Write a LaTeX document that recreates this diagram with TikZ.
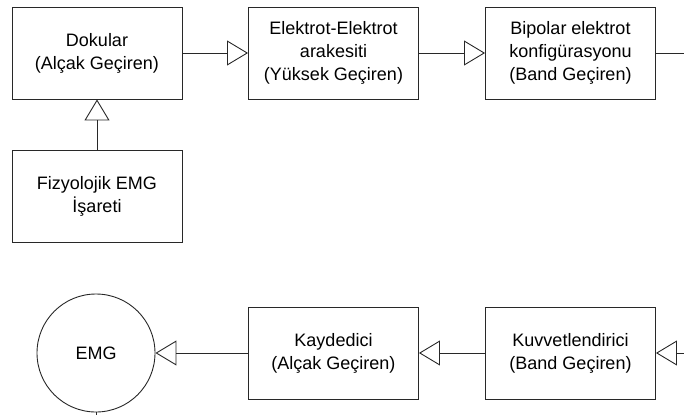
\documentclass[tikz,border=0pt]{standalone}
\usepackage{fontspec}
\setmainfont{Liberation Sans}
\usetikzlibrary{positioning}
\usetikzlibrary{arrows.meta}
\definecolor{cizgi}{RGB}{40,40,40}

\begin{document}
\begin{tikzpicture}[x=1pt, y=-1pt,
    blok/.style={draw=cizgi, line width=0.9pt, minimum width=170pt, minimum height=92pt,
                 align=center, font=\fontsize{18}{23}\selectfont},
    daire/.style={circle, draw=cizgi, line width=0.9pt, minimum size=118pt,
                  font=\fontsize{18}{23}\selectfont},
    akis/.style={draw=cizgi, line width=0.9pt, -{Triangle[open, length=21pt, width=25pt]}}]
    \useasboundingbox (0,0) rectangle (684,415);

    % Ust sira
    \node[blok] (dok) at (97,53) {Dokular\\(Alçak Geçiren)};
    \node[blok] (fiz) at (97,196.5) {Fizyolojik EMG\\İşareti};
    \node[blok] (ele) at (333.5,53) {Elektrot-Elektrot\\arakesiti\\(Yüksek Geçiren)};
    \node[blok] (bip) at (570.5,53) {Bipolar elektrot\\konfigürasyonu\\(Band Geçiren)};

    % Alt sira
    \node[daire] (emg) at (96,353) {EMG};
    \node[blok] (kay) at (333.5,353) {Kaydedici\\(Alçak Geçiren)};
    \node[blok] (kuv) at (570.5,353) {Kuvvetlendirici\\(Band Geçiren)};

    % Kenar noktalari
    \coordinate (sagUst) at (684,53);
    \coordinate (sagAlt) at (684,353);
    \coordinate (altUc) at (96,415);

    % Baglantilar
    \draw[akis] (fiz) -- (dok);
    \draw[akis] (dok) -- (ele);
    \draw[akis] (ele) -- (bip);
    \draw[draw=cizgi, line width=0.9pt] (bip) -- (sagUst);
    \draw[akis] (sagAlt) -- (kuv);
    \draw[akis] (kuv) -- (kay);
    \draw[akis] (kay) -- (emg);
    \draw[draw=cizgi, line width=0.9pt] (emg) -- (altUc);
\end{tikzpicture}
\end{document}
